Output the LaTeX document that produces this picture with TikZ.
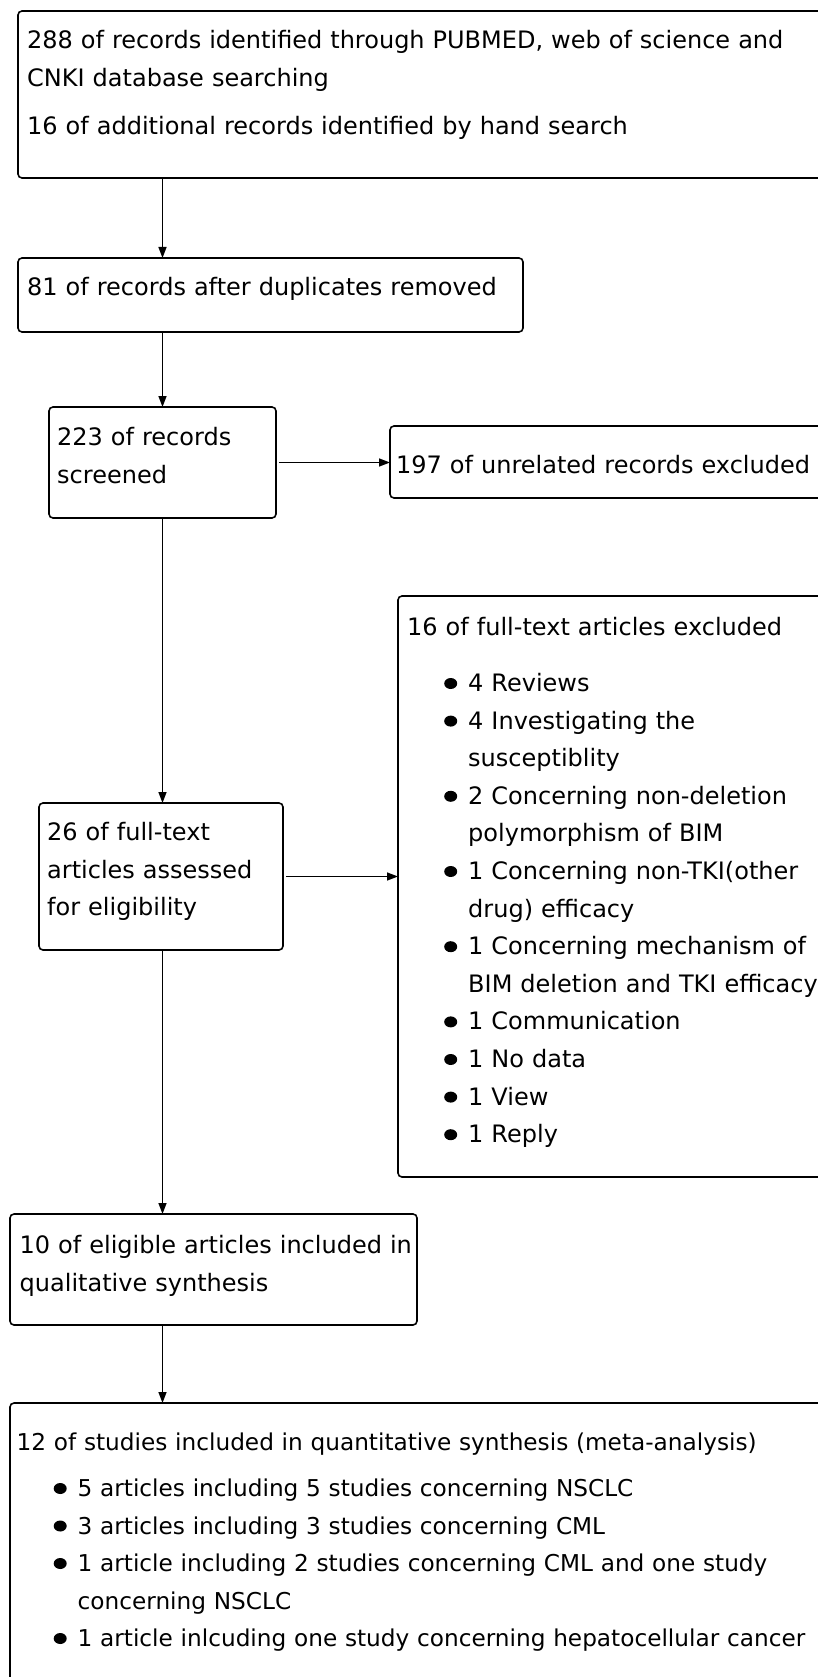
\documentclass[tikz,border=0pt]{standalone}
\usepackage{fontspec}
\setmainfont{DejaVu Sans}
\usetikzlibrary{arrows.meta}
\newcommand{\blt}{\hspace*{37pt}\tikz[baseline=-8pt]\fill (6.5pt,0pt) ellipse (6.5pt and 5.5pt) ;\hspace{11pt}}
\newcommand{\wrp}{\hspace*{61pt}}

\begin{document}
\begin{tikzpicture}[x=1pt,y=-1pt,
    box/.style={draw,line width=1.6pt,rounded corners=4pt,anchor=north west,inner sep=0pt,outer sep=0pt},
    txt/.style={anchor=base west,inner sep=0pt,text width=1000pt,align=left,font=\fontsize{24}{37.6}\selectfont},
    arr/.style={-{Triangle[length=11pt,width=8pt]},line width=1.4pt}]
    \useasboundingbox (0,0) rectangle (818,1677) ;
    \clip (0,0) rectangle (818,1677) ;
    \node[box,minimum width=820pt,minimum height=167pt] (srch) at (18,11) {} ;
    \node[box,minimum width=505pt,minimum height=74pt] (dup) at (18,258) {} ;
    \node[box,minimum width=227pt,minimum height=111pt] (scr) at (49,407) {} ;
    \node[box,minimum width=450pt,minimum height=72pt] (unrel) at (390,426) {} ;
    \node[box,minimum width=244pt,minimum height=147pt] (elig) at (39,803) {} ;
    \node[box,minimum width=440pt,minimum height=581pt] (excl) at (398,596) {} ;
    \node[box,minimum width=407pt,minimum height=111pt] (qual) at (10,1214) {} ;
    \node[box,minimum width=830pt,minimum height=290pt] (quan) at (10,1403) {} ;
    \node[txt] (srch-t) at (27,48.5) {288 of records identified through PUBMED, web of science and\\
      CNKI database searching\\[11pt]
      16 of additional records identified by hand search} ;
    \node[txt] (dup-t) at (27,295.5) {81 of records after duplicates removed} ;
    \node[txt] (scr-t) at (57,445.5) {223 of records\\ screened} ;
    \node[txt] (unrel-t) at (396,473.5) {197 of unrelated records excluded} ;
    \node[txt] (elig-t) at (47,840.5) {26 of full-text\\ articles assessed\\ for eligibility} ;
    \node[txt] (excl-t) at (407,635.5) {16 of full-text articles excluded\\[18.4pt]
      \blt 4 Reviews\\
      \blt 4 Investigating the\\
      \wrp susceptiblity\\
      \blt 2 Concerning non-deletion\\
      \wrp polymorphism of BIM\\
      \blt 1 Concerning non-TKI(other\\
      \wrp drug) efficacy\\
      \blt 1 Concerning mechanism of\\
      \wrp BIM deletion and TKI efficacy\\
      \blt 1 Communication\\
      \blt 1 No data\\
      \blt 1 View\\
      \blt 1 Reply} ;
    \node[txt] (qual-t) at (19.5,1253.5) {10 of eligible articles included in\\ qualitative synthesis} ;
    \node[txt,font=\fontsize{23.2}{37.5}\selectfont] (quan-t) at (16.5,1450.5) {12 of studies included in quantitative synthesis (meta-analysis)\\[8.5pt]
      \blt 5 articles including 5 studies concerning NSCLC\\
      \blt 3 articles including 3 studies concerning CML\\
      \blt 1 article including 2 studies concerning CML and one study\\
      \wrp concerning NSCLC\\
      \blt 1 article inlcuding one study concerning hepatocellular cancer} ;
    \draw[arr] (srch.south -| scr.north) -- (dup.north -| scr.north) ;
    \draw[arr] (dup.south -| scr.north) -- (scr.north) ;
    \draw[arr] (scr.south) -- (elig.north -| scr.south) ;
    \draw[arr] (elig.south -| scr.south) -- (qual.north -| scr.south) ;
    \draw[arr] (qual.south -| scr.south) -- (quan.north -| scr.south) ;
    \draw[arr,shorten <=3pt] (scr.east) -- (scr.east -| unrel.west) ;
    \draw[arr,shorten <=3pt] (elig.east) -- (elig.east -| excl.west) ;
  \end{tikzpicture}
\end{document}
